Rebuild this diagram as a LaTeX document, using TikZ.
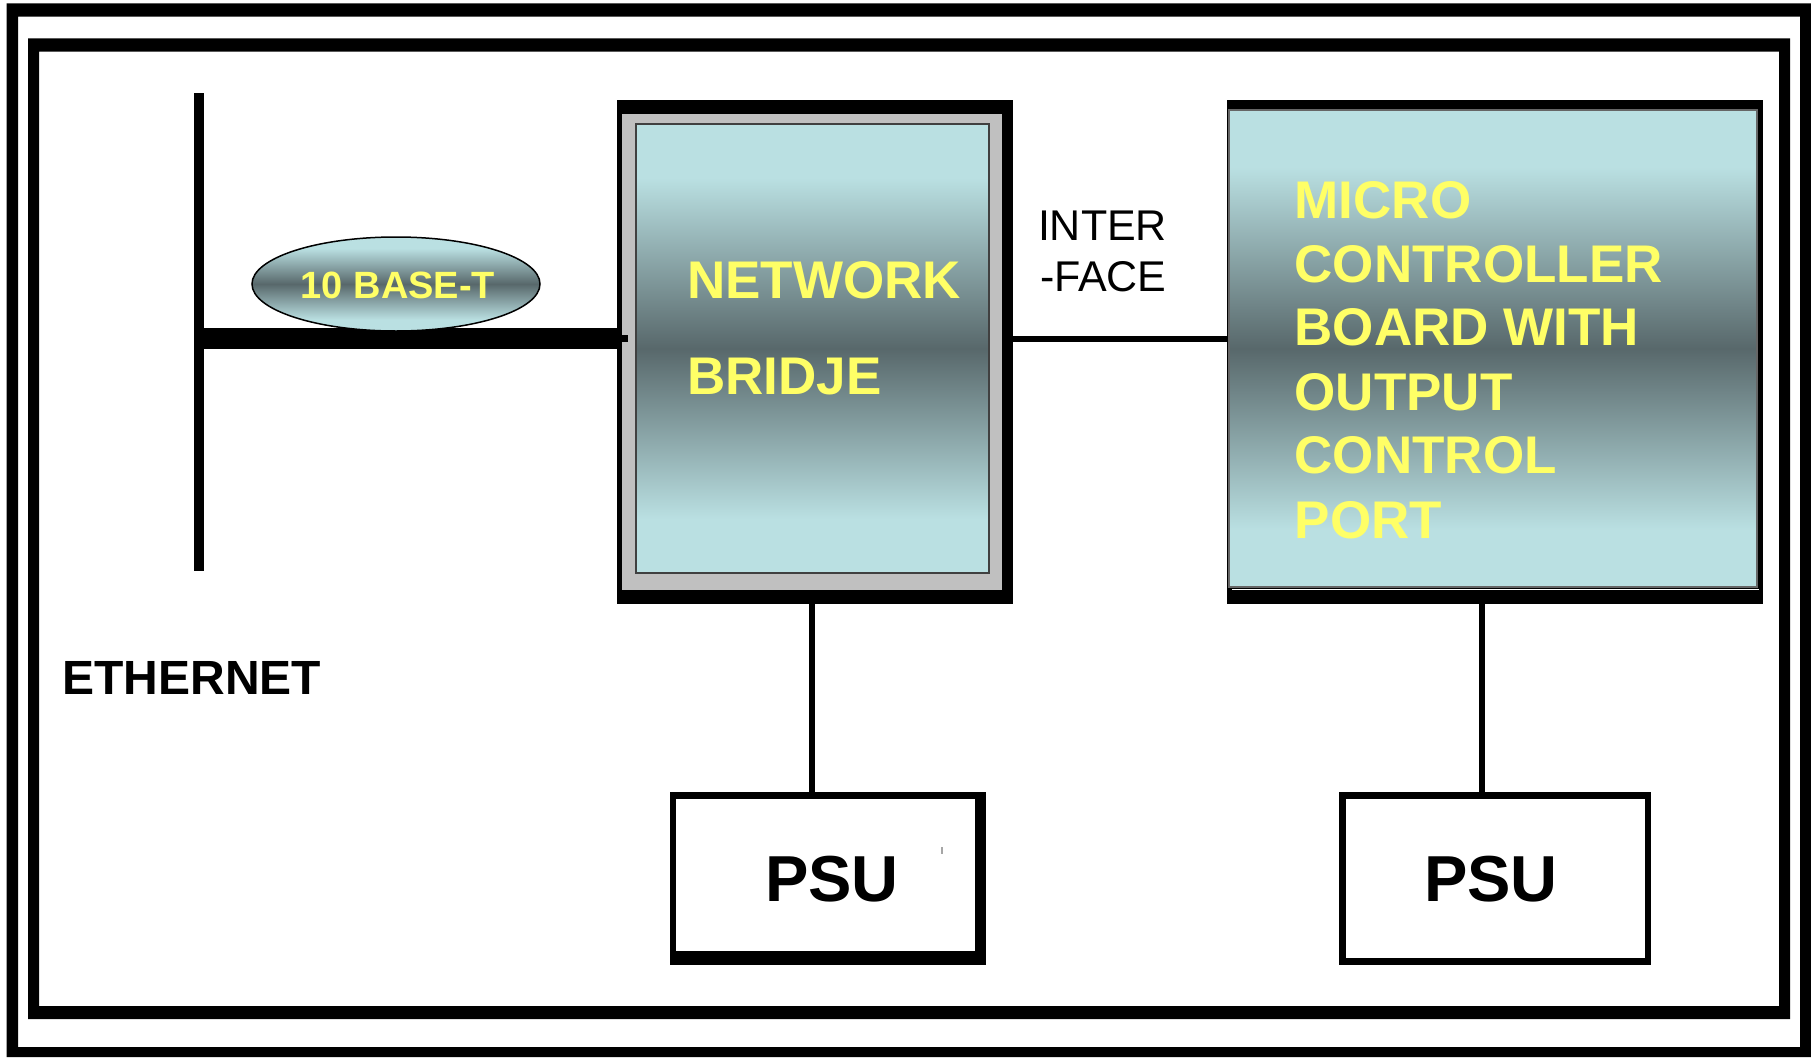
\documentclass[tikz,border=0pt]{standalone}
\usepackage{fontspec}
\setmainfont{Liberation Sans}
\usetikzlibrary{shapes.geometric}
\definecolor{lightsteel}{RGB}{186,224,226}
\definecolor{darksteel}{RGB}{88,104,107}
\definecolor{ylw}{RGB}{255,255,102}
\definecolor{frmgray}{RGB}{192,192,192}
\pgfdeclareverticalshading{steel}{100bp}{color(0bp)=(lightsteel); color(31bp)=(lightsteel); color(50bp)=(darksteel); color(69bp)=(lightsteel); color(100bp)=(lightsteel)}
\newcommand\setfs[1]{\fontsize{#1pt}{#1pt}\selectfont}
\begin{document}
\begin{tikzpicture}[x=1pt,y=-1pt,
  blk/.style={fill=black, inner sep=0, outer sep=0, rectangle},
  txt/.style={inner sep=0, outer sep=0, anchor=base west},
  ylwbold/.style={txt, text=ylw, font=\bfseries\setfs{53}},
  psutxt/.style={txt, font=\bfseries\setfs{65}},
  iftxt/.style={txt, font=\setfs{43}},
  wire/.style={line width=6pt}
]
\useasboundingbox (0,0) rectangle (1811,1057);
\fill[white] (0,0) rectangle (1811,1057);

% double frame
\fill[black,even odd rule] (6.5,3.3) rectangle (1811,1057) (18,16.7) rectangle (1800,1047);
\fill[black,even odd rule] (28,38.3) rectangle (1790,1019) (39,51.7) rectangle (1779,1006);

% network bridge block
\node[blk, minimum width=396pt, minimum height=504pt] (net) at (815,352) {};
\fill[frmgray] (622,114) rectangle (1002,590);
\shadedraw[shading=steel, draw=black!75, line width=1.5pt] (636,124) rectangle (989,573);

% micro controller block
\node[blk, minimum width=536.4pt, minimum height=504pt] (micro) at (1494.8,352) {};
\shadedraw[shading=steel, draw=black!60, line width=1.2pt] (1229,110) rectangle (1757,587);
\draw[white, line width=1.2pt] (1232,589.5) -- (1759,589.5);

% PSU blocks
\node[blk, minimum width=316pt, minimum height=173pt] (psuA) at (828,878.5) {};
\fill[white] (676,799) rectangle (975,951);
\node[blk, minimum width=312pt, minimum height=173pt] (psuB) at (1495,878.5) {};
\fill[white] (1346,799) rectangle (1645,958);

% connectors
\coordinate (busTop) at (199,93);
\coordinate (busBot) at (199,571);
\draw[line width=10pt] (busTop) -- (busBot);
\coordinate (tap) at (199,338.5);
\draw[line width=21pt] (tap) -- (tap -| net.west);
\draw[line width=7pt] (tap -| net.west) -- ++(11,0);
\coordinate (ify) at (0,338.5);
\draw[wire] (net.east |- ify) -- (micro.west |- ify);
\coordinate (pa) at (812,0);
\draw[wire] (net.south -| pa) -- (psuA.north -| pa);
\coordinate (pb) at (1482,0);
\draw[wire] (micro.south -| pb) -- (psuB.north -| pb);

% 10 BASE-T ellipse
\node[ellipse, minimum width=288pt, minimum height=94pt, inner sep=0, draw=black, line width=1.5pt, shade, shading=steel] (ell) at (396,284) {};
\node[inner sep=0, anchor=base, text=ylw, font=\bfseries\setfs{38}] (bt) at (398,298) {10 BASE-T};

% texts
\node[ylwbold] (netT1) at (687,298) {NETWORK};
\node[ylwbold] (netT2) at (687,394) {BRIDJE};

\node[ylwbold] (m1) at (1294.7,218) {MICRO};
\node[ylwbold] (m2) at (1294.7,282) {CONTROLLER};
\node[ylwbold] (m3) at (1294.7,345.5) {BOARD WITH};
\node[ylwbold] (m4) at (1294.7,410) {OUTPUT};
\node[ylwbold] (m5) at (1294.7,473) {CONTROL};
\node[ylwbold] (m6) at (1294.7,538) {PORT};

\node[iftxt] (if1) at (1038,240.7) {INTER};
\node[iftxt] (if2) at (1040,291) {-FACE};

\node[txt, font=\bfseries\setfs{48}] (eth) at (62.5,694) {ETHERNET};

\node[psutxt] (psuAT) at (765,901) {PSU};
\node[psutxt] (psuBT) at (1424,901) {PSU};

\draw[gray!70, line width=1.7pt] (942,847) -- (942,854);
\end{tikzpicture}
\end{document}
